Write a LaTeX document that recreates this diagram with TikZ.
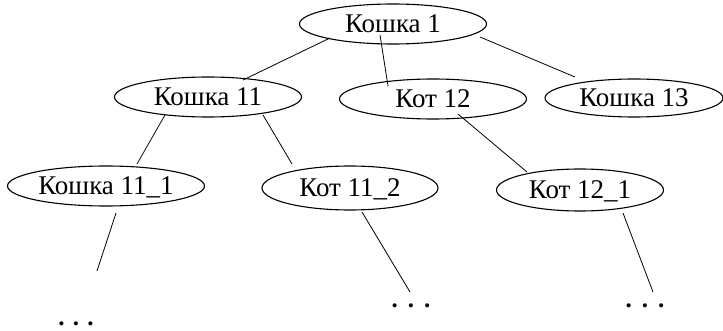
\documentclass[tikz,border=0pt]{standalone}
\usepackage{fontspec}
\setmainfont{Liberation Serif}
\usetikzlibrary{shapes.geometric,calc}

\begin{document}
\begin{tikzpicture}[x=1pt,y=-1pt]
    % `cat' is used for every ellipse of the tree.
    % `more' is used for the dots below the last row.
    \tikzstyle{cat} = [draw,line width=1.1pt,ellipse,inner sep=0pt,minimum height=40pt,text height=18pt,text depth=0pt,font=\rmfamily\fontsize{27}{32}\selectfont]
    \tikzstyle{more} = [inner sep=0pt,font=\rmfamily\bfseries\fontsize{25}{30}\selectfont]
    \tikzstyle{edge} = [line width=0.8pt]
    \useasboundingbox (0,0) rectangle (723,331);
    %
    \node[cat,minimum width=187pt] (k1) at (393,24) {Кошка 1};
    \node[cat,minimum width=187pt] (k11) at (208,97) {Кошка 11};
    \node[cat,minimum width=187pt] (k12) at (433,99) {Кот 12};
    \node[cat,minimum width=178pt,minimum height=38pt] (k13) at (634,98) {Кошка 13};
    \node[cat,minimum width=197pt] (k111) at (106,186) {Кошка 11\_1};
    \node[cat,minimum width=176pt,minimum height=44pt] (k112) at (350,188) {Кот 11\_2};
    \node[cat,minimum width=167pt,minimum height=42pt] (k121) at (580,190) {Кот 12\_1};
    %
    \node[more] (d1) at (76,324) {. . .};
    \node[more] (d2) at (411,306) {.\hspace{10pt}.\hspace{10pt}.};
    \node[more] (d3) at (645,306) {.\hspace{10pt}.\hspace{10pt}.};
    % Draw lines.
    \draw[edge] ($(k1)+(-63,14)$) -- ($(k11)+(35,-17)$)
                ($(k1)+(-13,11)$) -- ($(k12)+(-45,-13)$)
                ($(k1)+(87,13)$) -- ($(k13)+(-59,-21)$);
    \draw[edge] ($(k11)+(-43,18)$) -- ($(k111)+(31,-22)$)
                ($(k11)+(55,18)$) -- ($(k112)+(-58,-24)$)
                ($(k12)+(25,15)$) -- ($(k121)+(-53,-18)$);
    \draw[edge] ($(k111)+(10,27)$) -- ($(d1)+(21,-53)$)
                ($(k112)+(12,24)$) -- ($(d2)+(-1,-14)$)
                ($(k121)+(43,23)$) -- ($(d3)+(8,-14)$);
\end{tikzpicture}
\end{document}
